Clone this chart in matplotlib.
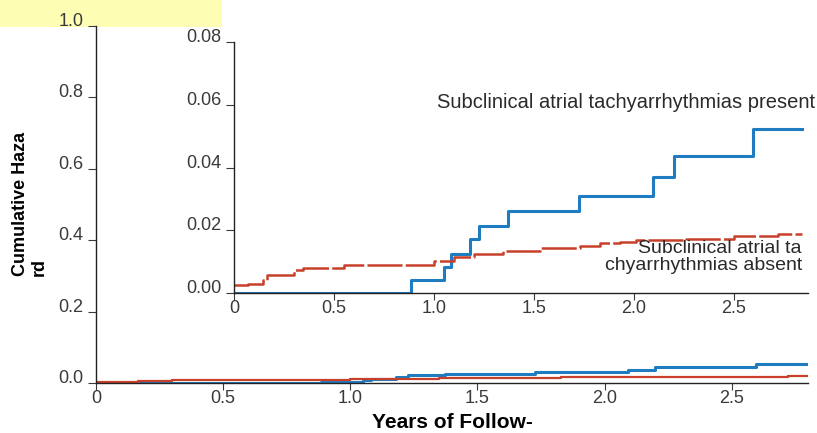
import matplotlib.pyplot as plt
from matplotlib.patches import Rectangle

plt.rcParams['font.family'] = ['Liberation Sans', 'DejaVu Sans']

# step times (years) and cumulative hazard values
present_t = [0, 0.885, 1.05, 1.083, 1.18, 1.227, 1.372, 1.725, 2.093, 2.2, 2.597, 2.84]
present_h = [0, 0.0041, 0.0083, 0.0124, 0.0171, 0.0215, 0.0262, 0.0309, 0.0371, 0.0436, 0.0522, 0.0522]

absent_t = [0, 0.07, 0.147, 0.165, 0.30, 0.345, 0.55, 1.0, 1.1, 1.2, 1.347, 1.53,
            1.73, 1.83, 1.93, 2.01, 2.26, 2.5, 2.72, 2.84]
absent_h = [0.0025, 0.003, 0.0041, 0.0057, 0.0073, 0.0079, 0.0088, 0.0102, 0.0115, 0.0125,
            0.0135, 0.0143, 0.0151, 0.0158, 0.0163, 0.0169, 0.0173, 0.0182, 0.0188, 0.0188]

main_xticks = [0, 0.5, 1.0, 1.5, 2.0, 2.5]
main_xlabels = ['0', '0.5', '1.0', '1.5', '2.0', '2.5']
main_yticks = [0.0, 0.2, 0.4, 0.6, 0.8, 1.0]
main_ylabels = ['0.0', '0.2', '0.4', '0.6', '0.8', '1.0']
inset_yticks = [0.0, 0.02, 0.04, 0.06, 0.08]
inset_ylabels = ['0.00', '0.02', '0.04', '0.06', '0.08']

blue = '#1f7cc0'
red = '#c8402a'
tick_col = '#3a3a3a'

fig = plt.figure(figsize=(8.17, 4.33), dpi=100)

# pale yellow highlight at the top left (behind the axes)
fig.patches.append(Rectangle((0, 1 - 27 / 433), 222 / 817, 27 / 433,
                             transform=fig.transFigure, facecolor='#fdfdb4',
                             edgecolor='none', zorder=-5))


def style(ax, xticks, xlabels, yticks, ylabels):
    for s in ['top', 'right']:
        ax.spines[s].set_visible(False)
    for s in ['left', 'bottom']:
        ax.spines[s].set_linewidth(1.0)
        ax.spines[s].set_color('#222222')
    ax.set_facecolor('none')
    ax.set_xticks(xticks)
    ax.set_xticklabels(xlabels)
    ax.set_yticks(yticks)
    ax.set_yticklabels(ylabels)
    ax.tick_params(axis='x', length=5, pad=0, labelsize=13, colors=tick_col, width=0.8)
    ax.tick_params(axis='y', length=6, pad=3, labelsize=13, colors=tick_col, width=0.8)
    for t in ax.yaxis.get_major_ticks():
        t.label1.set_verticalalignment('baseline')


# main axes
ax = fig.add_axes([96 / 817, 1 - 383 / 433, 712 / 817, 357 / 433])
ax.set_zorder(1)
ax.step(present_t, present_h, where='post', color=blue, lw=2.2)
ax.step(absent_t, absent_h, where='post', color=red, lw=1.6)
ax.set_xlim(0, 2.8)
ax.set_ylim(0, 1.0)
style(ax, main_xticks, main_xlabels, main_yticks, main_ylabels)

# inset axes
ins = fig.add_axes([234 / 817, 1 - 293 / 433, 574 / 817, 251 / 433])
ins.set_zorder(2)
ins.step(present_t, present_h, where='post', color=blue, lw=2.2)
ins.step(absent_t, absent_h, where='post', color=red, lw=1.8, linestyle=(0, (14, 1.3)))
ins.set_xlim(0, 2.87)
ins.set_ylim(0, 0.08)
style(ins, main_xticks, main_xlabels, inset_yticks, inset_ylabels)

ins.text(1.015, 0.0606, 'Subclinical atrial tachyarrhythmias present', fontsize=14.5,
         color='#2a2a2a', ha='left', va='center')
ins.text(2.84, 0.0115, 'Subclinical atrial ta\nchyarrhythmias absent', fontsize=14,
         color='#2a2a2a', ha='right', va='center', multialignment='right',
         linespacing=1.05)

fig.text(452 / 817, 1 - 423 / 433, 'Years of Follow-', fontsize=15,
         fontweight='bold', ha='center', va='center')
fig.text(30 / 817, 1 - 276 / 433, 'Cumulative Haza\nrd', fontsize=13, fontweight='bold',
         rotation=90, ha='center', va='bottom', multialignment='left', linespacing=1.1)

fig.savefig('out.png', dpi=100)
